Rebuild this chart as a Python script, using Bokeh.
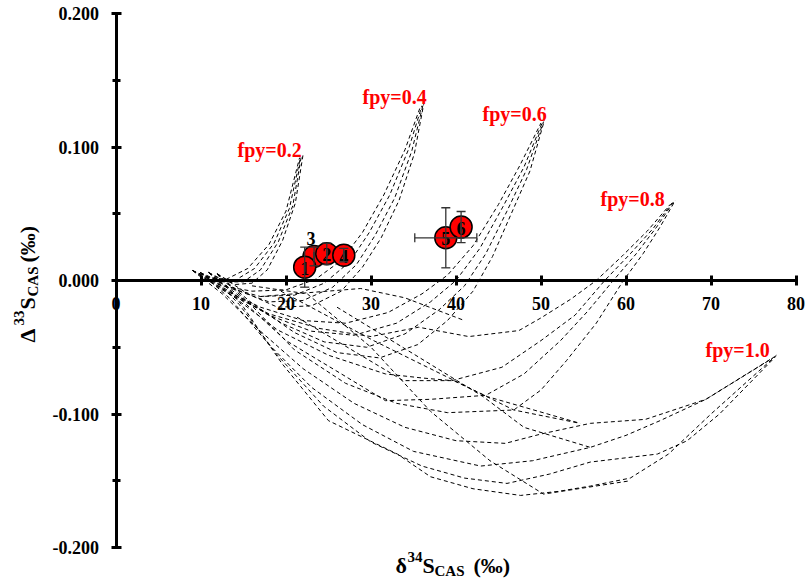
import math
from bokeh.plotting import figure
from bokeh.models import (LinearAxis, FixedTicker, NumeralTickFormatter, Label,
                          Whisker, ColumnDataSource, Range1d, TeeHead)
from bokeh.embed import file_html
from bokeh.resources import INLINE
from bokeh.core.properties import value

# ---------------- data ----------------
x_ticks = [0, 10, 20, 30, 40, 50, 60, 70, 80]
y_ticks = [-0.2, -0.1, 0.0, 0.1, 0.2]
y_minor = [-0.15, -0.05, 0.05, 0.15]

# model curves (fpy = fraction of pyrite burial), four curves per fpy value
fpy02_x = [[9.0, 11.0, 13.0, 15.5, 18.0, 20.0, 21.6],
           [9.9, 12.0, 14.0, 16.3, 18.6, 20.4, 21.7],
           [10.9, 13.0, 15.0, 17.0, 19.1, 20.8, 21.8],
           [11.9, 14.0, 16.0, 17.8, 19.6, 21.1, 22.0]]
fpy02_y = [[0.0075, 0.002, 0.001, 0.009, 0.027, 0.052, 0.092],
           [0.006, 0.000, 0.000, 0.009, 0.028, 0.054, 0.092],
           [0.006, -0.001, -0.001, 0.008, 0.029, 0.056, 0.093],
           [0.005, -0.003, -0.002, 0.008, 0.030, 0.058, 0.094]]

fpy04_x = [[9.0, 12.5, 16.0, 20.0, 23.5, 26.5, 29.0, 31.5, 34.0, 35.8],
           [9.9, 13.5, 17.0, 21.0, 24.5, 27.5, 29.8, 32.2, 34.4, 36.0],
           [10.9, 14.5, 18.0, 22.0, 25.5, 28.3, 30.5, 32.8, 34.8, 36.1],
           [11.9, 15.5, 19.0, 23.0, 26.5, 29.0, 31.2, 33.3, 35.1, 36.2]]
fpy04_y = [[0.0075, -0.004, -0.008, -0.007, 0.001, 0.015, 0.036, 0.064, 0.098, 0.130],
           [0.006, -0.006, -0.012, -0.011, -0.002, 0.014, 0.036, 0.064, 0.098, 0.131],
           [0.006, -0.008, -0.016, -0.015, -0.005, 0.012, 0.034, 0.062, 0.097, 0.131],
           [0.005, -0.010, -0.020, -0.019, -0.008, 0.010, 0.032, 0.060, 0.095, 0.132]]

fpy06_x = [[9.0, 13.0, 17.0, 22.0, 27.0, 32.0, 36.0, 39.0, 42.0, 45.0, 47.5, 50.0],
           [9.9, 14.0, 18.0, 23.0, 28.0, 33.0, 37.0, 40.0, 42.8, 45.5, 48.0, 50.2],
           [10.9, 15.0, 19.5, 24.5, 29.5, 34.0, 38.0, 41.0, 43.5, 46.0, 48.3, 50.3],
           [11.9, 16.0, 21.0, 26.0, 31.0, 35.5, 39.0, 42.0, 44.3, 46.5, 48.7, 50.4]]
fpy06_y = [[0.0075, -0.008, -0.020, -0.030, -0.032, -0.024, -0.010, 0.004, 0.026, 0.057, 0.086, 0.118],
           [0.006, -0.011, -0.026, -0.038, -0.041, -0.032, -0.016, 0.000, 0.024, 0.055, 0.085, 0.119],
           [0.006, -0.014, -0.032, -0.046, -0.050, -0.040, -0.022, -0.004, 0.020, 0.052, 0.083, 0.119],
           [0.005, -0.017, -0.039, -0.054, -0.058, -0.048, -0.030, -0.008, 0.018, 0.050, 0.082, 0.120]]

fpy08_x = [[9.0, 13.0, 18.0, 24.0, 30.0, 35.6, 41.5, 47.4, 50.0, 53.5, 56.5, 59.5, 62.5, 65.2],
           [9.9, 14.0, 19.0, 25.0, 31.7, 36.0, 39.5, 45.4, 50.0, 54.0, 57.5, 60.5, 63.2, 65.4],
           [10.9, 15.0, 20.0, 26.0, 31.7, 37.0, 43.5, 48.0, 52.3, 55.5, 58.5, 61.2, 63.6, 65.6],
           [11.9, 16.0, 21.0, 27.0, 33.0, 39.0, 46.8, 50.0, 53.0, 56.5, 59.7, 62.0, 64.0, 65.8]]
fpy08_y = [[0.0075, -0.009, -0.025, -0.036, -0.042, -0.035, -0.042, -0.0375, -0.028, -0.014, 0.000, 0.018, 0.037, 0.057],
           [0.006, -0.013, -0.037, -0.056, -0.070, -0.073, -0.075, -0.065, -0.045, -0.026, 0.000, 0.020, 0.039, 0.058],
           [0.006, -0.016, -0.045, -0.068, -0.090, -0.089, -0.086, -0.070, -0.045, -0.023, 0.000, 0.020, 0.040, 0.059],
           [0.005, -0.019, -0.052, -0.077, -0.092, -0.099, -0.097, -0.082, -0.060, -0.032, 0.000, 0.020, 0.040, 0.060]]

fpy10_x = [[9.0, 12.5, 17.0, 22.0, 28.0, 34.0, 40.0, 45.8, 50.0, 55.8, 62.3, 69.4, 77.3],
           [9.9, 13.5, 18.0, 23.0, 29.0, 35.0, 42.9, 49.0, 55.8, 60.0, 64.0, 69.4, 77.5],
           [10.9, 14.5, 19.0, 24.4, 30.0, 36.0, 41.0, 46.0, 51.0, 55.8, 63.7, 67.2, 71.0, 77.6],
           [11.9, 15.0, 19.5, 25.0, 33.1, 37.0, 42.0, 47.6, 52.0, 55.8, 60.5, 65.0, 70.0, 77.7]]
fpy10_y = [[0.0075, -0.010, -0.038, -0.066, -0.092, -0.110, -0.120, -0.122, -0.115, -0.107, -0.104, -0.089, -0.058],
           [0.006, -0.014, -0.048, -0.080, -0.108, -0.128, -0.139, -0.135, -0.125, -0.116, -0.105, -0.089, -0.057],
           [0.006, -0.018, -0.056, -0.094, -0.121, -0.139, -0.148, -0.152, -0.145, -0.136, -0.130, -0.120, -0.100, -0.057],
           [0.005, -0.020, -0.062, -0.105, -0.130, -0.147, -0.156, -0.161, -0.158, -0.154, -0.148, -0.130, -0.100, -0.056]]

# crossing segments of the model grid
grid_x = [[16.0, 22.5, 30.0, 37.0, 44.0, 50.3, 60.5],
          [21.3, 33.8, 39.7, 43.7, 54.6],
          [19.4, 30.3, 46.8, 54.6],
          [26.0, 35.0, 43.2, 48.0, 55.8],
          [17.0, 28.8, 34.0, 41.0]]
grid_y = [[-0.004, -0.010, -0.050, -0.098, -0.135, -0.160, -0.150],
          [-0.0275, -0.075, -0.075, -0.087, -0.107],
          [-0.008, -0.045, -0.097, -0.107],
          [-0.020, -0.055, -0.087, -0.110, -0.125],
          [-0.012, -0.006, -0.013, -0.030]]

fpy_labels = ["fpy=0.2", "fpy=0.4", "fpy=0.6", "fpy=0.8", "fpy=1.0"]

# samples
sample_id = ["3", "2", "4", "1", "5", "6"]
d34S = [23.3, 24.8, 26.8, 22.2, 38.8, 40.6]
D33S = [0.018, 0.020, 0.019, 0.010, 0.032, 0.040]
d34S_err = [0.0, 0.0, 0.0, 0.0, 3.65, 0.0]
D33S_err = [0.007, 0.008, 0.005, 0.015, 0.0225, 0.0117]

# ---------------- layout helpers (pixel -> data, for text placement) ----------------
W, H = 807, 583
X0_PX, X_SCALE = 115.5, 8.5
Y0_PX, Y_SCALE = 280.0, 1335.0


def dx(px):
    return (px - X0_PX) / X_SCALE


def dy(py):
    return (Y0_PX - py) / Y_SCALE


FONT = "Liberation Serif"

p = figure(width=W, height=H, x_range=Range1d(dx(0), dx(W)), y_range=Range1d(dy(H), dy(0)),
           min_border=0, x_axis_location=None, y_axis_location=None,
           toolbar_location=None, output_backend="svg", outline_line_color=None,
           background_fill_color="white", border_fill_color="white")
p.xgrid.visible = False
p.ygrid.visible = False

# ---------------- model curves ----------------
all_x = fpy02_x + fpy04_x + fpy06_x + fpy08_x + fpy10_x + grid_x
all_y = fpy02_y + fpy04_y + fpy06_y + fpy08_y + fpy10_y + grid_y
p.multi_line(xs=all_x, ys=all_y, line_color="black", line_width=1, line_dash="4 3")

# ---------------- axes ----------------
xaxis = LinearAxis(fixed_location=0, bounds=(0, 80), ticker=FixedTicker(ticks=x_ticks))
yaxis = LinearAxis(fixed_location=0, bounds=(-0.2, 0.2),
                   ticker=FixedTicker(ticks=y_ticks, minor_ticks=y_minor),
                   formatter=NumeralTickFormatter(format="0.000"))
for ax in (xaxis, yaxis):
    ax.axis_line_width = 3
    ax.axis_line_color = "black"
    ax.major_tick_line_width = 3
    ax.major_tick_in = 5
    ax.major_tick_out = 5
    ax.minor_tick_line_width = 3
    ax.minor_tick_in = 4
    ax.minor_tick_out = 4
    ax.major_label_text_font = FONT
    ax.major_label_text_font_style = "bold"
    ax.major_label_text_font_size = "18px"
    ax.major_label_text_color = "black"
xaxis.major_label_standoff = 11
yaxis.major_label_standoff = 12
p.add_layout(xaxis, "below")
p.add_layout(yaxis, "left")

# ---------------- error bars and samples ----------------
src = ColumnDataSource(dict(
    x=d34S, y=D33S, lab=sample_id,
    xl=[a - b for a, b in zip(d34S, d34S_err)], xu=[a + b for a, b in zip(d34S, d34S_err)],
    yl=[a - b for a, b in zip(D33S, D33S_err)], yu=[a + b for a, b in zip(D33S, D33S_err)],
    xo=[-3 if s == "3" else 0 for s in sample_id],
    yo=[-18 if s == "3" else 1 for s in sample_id]))
for dim, base, lo, up in (("height", "x", "yl", "yu"), ("width", "y", "xl", "xu")):
    w = Whisker(source=src, base=base, lower=lo, upper=up, dimension=dim,
                line_color="#333333", line_width=1.3, level="glyph",
                upper_head=TeeHead(size=9, line_color="#333333", line_width=1.3),
                lower_head=TeeHead(size=9, line_color="#333333", line_width=1.3))
    p.add_layout(w)

p.scatter("x", "y", source=src, size=22, fill_color="#ff0000", line_color="black", line_width=1.5)
p.text("x", "y", text="lab", source=src, x_offset="xo", y_offset="yo",
       text_align="center", text_baseline="middle", text_color="black",
       text_font=value(FONT), text_font_style="bold", text_font_size="18px")

# ---------------- fpy labels ----------------
fpy_px = [(237, 149), (362, 96), (482, 113), (600, 198), (705, 349)]
for t, (lx, ly) in zip(fpy_labels, fpy_px):
    p.add_layout(Label(x=dx(lx), y=dy(ly), text=t, text_color="#ff0000", text_font=FONT,
                       text_font_style="bold", text_font_size="20px",
                       text_align="left", text_baseline="alphabetic"))

# ---------------- axis titles ----------------
def piece(text, px, py, size, angle=0.0):
    p.add_layout(Label(x=dx(px), y=dy(py), text=text, text_color="black", text_font=FONT,
                       text_font_style="bold", text_font_size=size, angle=angle,
                       text_align="left", text_baseline="alphabetic"))

# bottom: δ34S_CAS (‰)
piece("δ", 395, 565, "22px")
piece("34", 407, 556, "15px")
piece("S", 422, 565, "22px")
piece("CAS", 434, 570, "15px")
piece("(‰)", 473, 565, "22px")

# left (rotated): Δ33S_CAS (‰)
A = math.pi / 2
piece("Δ", 27, 342, "22px", A)
piece("33", 18, 325, "15px", A)
piece("S", 27, 309, "22px", A)
piece("CAS", 32, 296, "15px", A)
piece("(‰)", 27, 262, "22px", A)

open("out.html", "w").write(file_html(p, INLINE))
